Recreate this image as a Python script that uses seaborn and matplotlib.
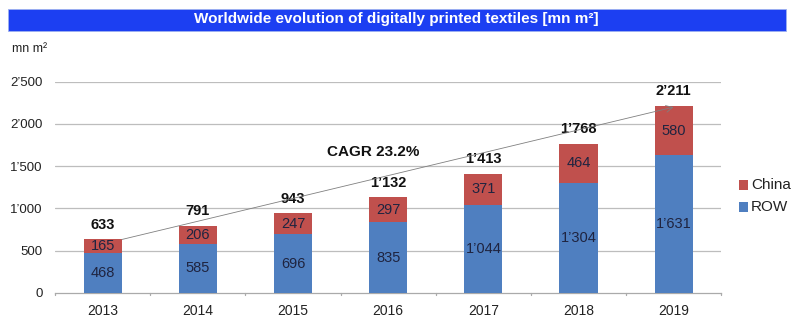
import matplotlib
matplotlib.use("Agg")
import matplotlib.pyplot as plt
from matplotlib.patches import Rectangle
from matplotlib import font_manager
import seaborn as sns
import pandas as pd

years = ["2013", "2014", "2015", "2016", "2017", "2018", "2019"]
row = [468, 585, 696, 835, 1044, 1304, 1631]
china = [165, 206, 247, 297, 371, 464, 580]
totals = [633, 791, 943, 1132, 1413, 1768, 2211]
yticks = [0, 500, 1000, 1500, 2000, 2500]

ROW_C = "#4f7fc0"
CHINA_C = "#c0504d"
TEXT_C = "#1f2440"


def fmt(v):
    return f"{v:,}".replace(",", "\u2019")


sns.set_theme(style="white")
plt.rcParams["font.family"] = ["Liberation Sans", "DejaVu Sans"]

names = {f.name for f in font_manager.fontManager.ttflist}
title_font = "Liberation Sans Narrow" if "Liberation Sans Narrow" in names else "Liberation Sans"

df = pd.DataFrame({"year": years, "ROW": row, "China": china, "total": totals})

fig = plt.figure(figsize=(8, 3.25), dpi=100)
ax = fig.add_axes([0.069, 0.0985, 0.8325, 0.65])

# stacked bars: total height in China colour, ROW drawn over it
sns.barplot(data=df, x="year", y="total", color=CHINA_C, width=0.40,
            saturation=1, linewidth=0, ax=ax, zorder=2)
sns.barplot(data=df, x="year", y="ROW", color=ROW_C, width=0.40,
            saturation=1, linewidth=0, ax=ax, zorder=3)

ax.set_ylim(0, 2500)
ax.set_xlim(-0.5, len(years) - 0.5)
ax.set_yticks(yticks)
ax.set_yticklabels([fmt(v) for v in yticks], fontsize=9.5, color="#222222")
ax.set_xlabel("")
ax.set_ylabel("")
ax.tick_params(axis="x", labelsize=10, colors="#222222", length=0, pad=8)
ax.tick_params(axis="y", length=0, pad=9)
for v in yticks[1:]:
    ax.axhline(v, color="#bdbdbd", lw=0.9, zorder=1)
for s in ["top", "right", "left"]:
    ax.spines[s].set_visible(False)
ax.spines["bottom"].set_color("#aaaaaa")
ax.spines["bottom"].set_linewidth(0.9)
# small category separator ticks
for i in range(len(years) + 1):
    ax.plot([i - 0.5, i - 0.5], [0, -25], color="#aaaaaa", lw=0.9,
            clip_on=False, zorder=1)

for i, (r, c, t) in enumerate(zip(row, china, totals)):
    ax.text(i, r / 2, fmt(r), ha="center", va="center", fontsize=10.5,
            color=TEXT_C, zorder=5)
    ax.text(i, r + c / 2, fmt(c), ha="center", va="center", fontsize=10.5,
            color=TEXT_C, zorder=5)
    ax.text(i, t + 175, fmt(t), ha="center", va="center", fontsize=10.5,
            fontweight="bold", color="#111111", zorder=5)

# growth arrow
ax.annotate("", xy=(6.0, 2200), xytext=(0.2, 633),
            arrowprops=dict(arrowstyle="->", color="#808080", lw=0.6,
                            shrinkA=0, shrinkB=0), zorder=6)
ax.text(2.84, 1667, "CAGR 23.2%", ha="center", va="center", fontsize=11,
        fontweight="bold", color="#111111", zorder=6)

# unit label
fig.text(0.015, 0.848, "mn m\u00b2", fontsize=9, color="#222222",
         ha="left", va="center")

# title banner
fig.patches.append(Rectangle((0.01, 0.905), 0.972, 0.068,
                             transform=fig.transFigure,
                             facecolor="#1c3ff2", edgecolor="#9db0f0", lw=0.6))
fig.text(0.496, 0.94, "Worldwide evolution of digitally printed textiles [mn m\u00b2]",
         ha="center", va="center", fontsize=11, fontweight="bold",
         color="white", family=[title_font, "DejaVu Sans"])

# legend
legend_items = [("China", CHINA_C, 0.431), ("ROW", ROW_C, 0.363)]
for label, col, y in legend_items:
    fig.patches.append(Rectangle((0.924, y - 0.015), 0.0115, 0.03,
                                 transform=fig.transFigure, facecolor=col,
                                 edgecolor="none"))
    fig.text(0.939, y, label, fontsize=11, color="#222222",
             ha="left", va="center")

fig.savefig("out.png", dpi=100)
